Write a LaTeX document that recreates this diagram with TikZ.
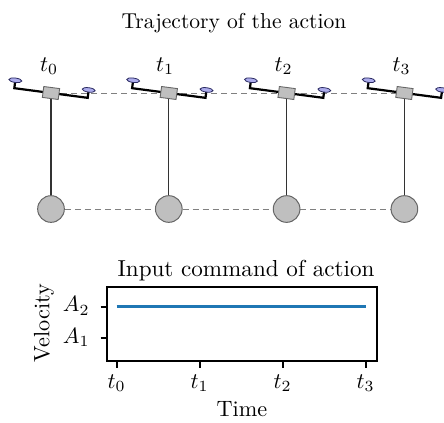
\documentclass[tikz,border=0pt]{standalone}
\usetikzlibrary{backgrounds}
\definecolor{propfill}{RGB}{172,172,236}
\definecolor{propedge}{RGB}{40,40,95}
\definecolor{plotblue}{HTML}{1F77B4}
\begin{document}
\begin{tikzpicture}[x=0.45pt,y=-0.45pt,
  txt/.style={inner sep=0pt, outer sep=0pt},
  traj/.style={draw=black!50, line width=0.45pt, dash pattern=on 2.7pt off 1.8pt},
  rod/.style={draw=black!80, line width=0.5pt},
  ball/.style={circle, draw=black!60, fill=gray!50, line width=0.45pt,
    minimum size=12pt, inner sep=0pt},
  arm/.style={draw=black, line width=1pt, line join=miter},
  prop/.style={draw=propedge, fill=propfill, line width=0.35pt},
  hub/.style={draw=black!60, fill=gray!50, line width=0.4pt},
  spine/.style={draw=black, line width=0.8pt},
  tickmark/.style={draw=black, line width=0.8pt},
  cmd/.style={draw=plotblue, line width=1.1pt}]
\useasboundingbox (0,0) rectangle (444,422);

% title of the upper panel
\node[txt, anchor=base] (title) at (234,28) {\fontsize{9.7}{12}\selectfont Trajectory of the action};

% drone bodies and pendulum masses
\foreach \i/\x/\lx in {0/51/49, 1/168.8/165, 2/286.6/283.5, 3/404.4/401.5} {
  \coordinate (b\i) at (\x,93);
  \node[ball] (m\i) at (\x,209) {};
  \node[txt, anchor=base] (t\i) at (\lx,71) {$t_\i$};
}

% trajectory guides and rods, behind everything
\begin{scope}[on background layer]
  \draw[traj] (b0) -- (b1) -- (b2) -- (b3);
  \draw[traj] (m0) -- (m1) -- (m2) -- (m3);
  \foreach \i in {0,1,2,3} \draw[rod] (b\i) -- (m\i);
\end{scope}

% quadrotors, tilted
\foreach \i in {0,1,2,3} {
  \begin{scope}[shift={(b\i)}, rotate=-7.5]
    \draw[arm] (-37,-7.5) -- (-37,0) -- (37,0) -- (37,-7.5);
    \draw[prop] (-37,-8) ellipse [x radius=6.5, y radius=2.2];
    \draw[prop] (37,-8) ellipse [x radius=6.5, y radius=2.2];
    \draw[hub] (-8,-5.5) rectangle (8,5.5);
  \end{scope}
}

% lower panel: input command
\node[txt, anchor=base] (ptitle) at (246,276.5) {\fontsize{10.4}{12}\selectfont Input command of action};
\draw[cmd] (116.7,306.7) -- (365.7,306.7);
\draw[spine] (107,287) rectangle (377,361);

\foreach \i/\x in {0/116.7, 1/199.7, 2/282.7, 3/365.7} {
  \draw[tickmark] (\x,361) -- (\x,367.5);
  \node[txt, anchor=base] (xt\i) at (\x,388) {$t_\i$};
}
\draw[tickmark] (100.5,306.7) -- (107,306.7);
\draw[tickmark] (100.5,338.3) -- (107,338.3);
\node[txt, anchor=base east] (a2) at (89.5,311.7) {$A_2$};
\node[txt, anchor=base east] (a1) at (89.5,343.2) {$A_1$};

\node[txt, anchor=base] (xlab) at (242,416.5) {Time};
\node[txt, rotate=90] (ylab) at (44,323) {Velocity};
\end{tikzpicture}
\end{document}
